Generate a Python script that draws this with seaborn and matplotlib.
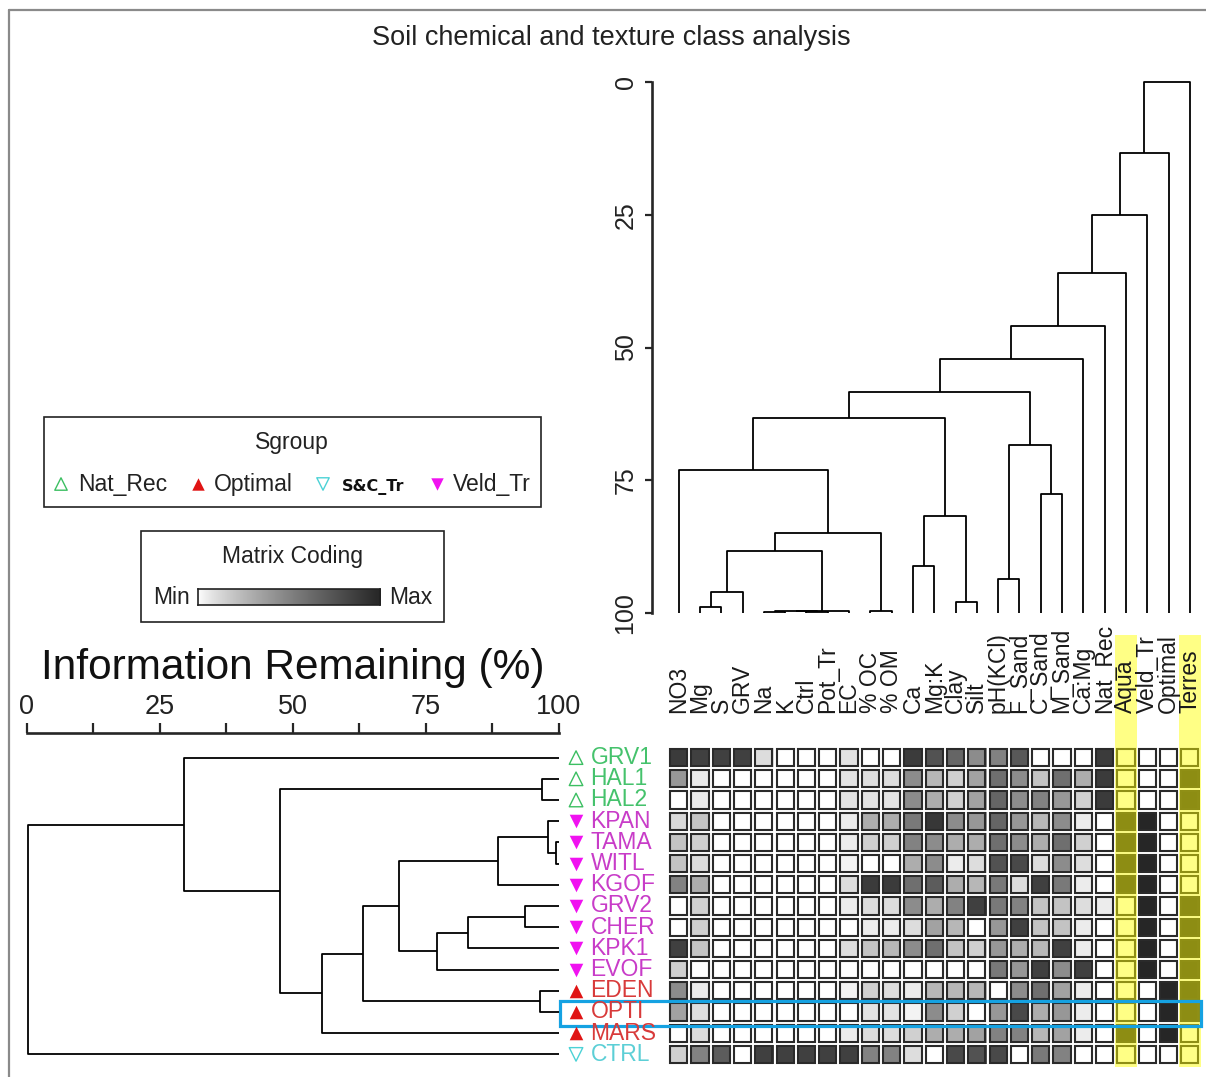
import numpy as np
import pandas as pd
import matplotlib
matplotlib.use("Agg")
import matplotlib.pyplot as plt
import seaborn as sns
from matplotlib.patches import Rectangle
from matplotlib.colors import LinearSegmentedColormap

# ---------------- data ----------------
sites = ["GRV1", "HAL1", "HAL2", "KPAN", "TAMA", "WITL", "KGOF", "GRV2",
         "CHER", "KPK1", "EVOF", "EDEN", "OPTI", "MARS", "CTRL"]
site_group = ["Nat_Rec", "Nat_Rec", "Nat_Rec", "Veld_Tr", "Veld_Tr", "Veld_Tr",
              "Veld_Tr", "Veld_Tr", "Veld_Tr", "Veld_Tr", "Veld_Tr", "Optimal",
              "Optimal", "Optimal", "S&C_Tr"]
variables = ["NO3", "Mg", "S", "GRV", "Na", "K", "Ctrl", "Pot_Tr", "EC", "% OC",
             "% OM", "Ca", "Mg:K", "Clay", "Silt", "pH(KCl)", "F_Sand", "C_Sand",
             "M_Sand", "Ca:Mg", "Nat_Rec", "Aqua", "Veld_Tr", "Optimal", "Terres"]
highlight_vars = ["Aqua", "Terres"]
highlight_site = "OPTI"

# relative values (0 = Min, 1 = Max), one list per site, in variable order
GRV1 = [0.88, 0.85, 0.85, 0.85, 0.10, 0, 0, 0, 0.08, 0, 0, 0.88, 0.75,
        0.65, 0.45, 0.50, 0.72, 0, 0, 0, 0.88, 0, 0, 0, 0]
HAL1 = [0.40, 0.05, 0, 0, 0, 0, 0, 0, 0.08, 0.10, 0.10, 0.45, 0.25,
        0.15, 0.35, 0.60, 0.45, 0.20, 0.60, 0.30, 0.88, 0, 0, 0, 1]
HAL2 = [0, 0.05, 0, 0, 0, 0, 0, 0, 0.08, 0.08, 0.08, 0.45, 0.30,
        0.15, 0.35, 0.65, 0.45, 0.50, 0.40, 0.15, 0.88, 0, 0, 0, 1]
KPAN = [0.12, 0.20, 0, 0, 0, 0, 0, 0, 0.05, 0.30, 0.30, 0.55, 0.90,
        0.45, 0.40, 0.65, 0.40, 0.25, 0.45, 0.05, 0, 1, 1, 0, 0]
TAMA = [0.20, 0.15, 0, 0, 0, 0, 0, 0, 0.05, 0.15, 0.15, 0.50, 0.45,
        0.30, 0.30, 0.60, 0.45, 0.30, 0.60, 0.15, 0, 1, 1, 0, 0]
WITL = [0.20, 0.10, 0, 0, 0, 0, 0, 0, 0.03, 0, 0, 0.30, 0.45,
        0.05, 0.10, 0.75, 0.80, 0.10, 0.45, 0.10, 0, 1, 1, 0, 0]
KGOF = [0.50, 0.30, 0, 0, 0, 0, 0, 0, 0.10, 0.88, 0.88, 0.60, 0.70,
        0.30, 0.25, 0.55, 0.10, 0.85, 0.55, 0.05, 0, 1, 1, 0, 0]
GRV2 = [0, 0.15, 0, 0, 0, 0, 0, 0, 0.05, 0.10, 0.10, 0.45, 0.30,
        0.50, 0.85, 0.55, 0.50, 0.20, 0.20, 0.10, 0.05, 0, 1, 0, 1]
CHER = [0, 0.15, 0, 0, 0, 0, 0, 0, 0, 0.05, 0.05, 0.10, 0.35,
        0.25, 0, 0.40, 0.85, 0.20, 0.20, 0.05, 0, 0, 1, 0, 1]
KPK1 = [0.85, 0.20, 0, 0, 0, 0, 0, 0, 0.10, 0.20, 0.25, 0.45, 0.60,
        0.20, 0.15, 0.40, 0.30, 0.25, 0.85, 0.05, 0, 0, 1, 0, 1]
EVOF = [0.15, 0, 0, 0, 0, 0, 0, 0, 0, 0, 0, 0, 0,
        0, 0, 0.55, 0.40, 0.85, 0.45, 0.85, 0, 0, 1, 0, 1]
EDEN = [0.45, 0.05, 0, 0, 0, 0, 0, 0, 0.03, 0.15, 0.10, 0.05, 0.25,
        0.25, 0.25, 0, 0.45, 0.60, 0.35, 0.05, 0, 0, 0, 1, 1]
OPTI = [0.35, 0.10, 0, 0, 0, 0, 0, 0, 0, 0.08, 0.08, 0.03, 0.45,
        0.15, 0, 0.40, 0.80, 0.30, 0.40, 0.05, 0, 0, 0, 1, 1]
MARS = [0, 0.10, 0, 0, 0, 0, 0, 0, 0.05, 0.10, 0.10, 0.15, 0.30,
        0.30, 0.35, 0.50, 0.50, 0.25, 0.35, 0.05, 0, 1, 0, 1, 0]
CTRL = [0.15, 0.50, 0.70, 0, 0.85, 0.85, 0.85, 0.85, 0.85, 0.50, 0.50, 0.10, 0,
        0.80, 0.75, 0.80, 0, 0.55, 0.50, 0, 0, 0, 0, 0, 0]

# row (site) cluster merges: (a, b, information remaining %)
row_merges = [("TAMA", "WITL", 99.4), ("KPAN", "m0", 98.0), ("HAL1", "HAL2", 96.9),
              ("EDEN", "OPTI", 96.5), ("GRV2", "CHER", 93.6), ("m1", "KGOF", 88.5),
              ("m4", "KPK1", 82.9), ("m6", "EVOF", 77.0), ("m5", "m7", 69.9),
              ("m8", "m3", 63.1), ("m9", "MARS", 55.4), ("m2", "m10", 47.6),
              ("GRV1", "m11", 29.5), ("m12", "CTRL", 0.3)]
# column (variable) cluster merges
col_merges = [("Mg", "S", 98.9), ("m0", "GRV", 96.1), ("Na", "K", 99.9),
              ("Ctrl", "Pot_Tr", 99.8), ("m2", "m3", 99.7), ("m4", "EC", 99.6),
              ("m1", "m5", 88.4), ("% OC", "% OM", 99.6), ("m6", "m7", 85.0),
              ("NO3", "m8", 73.1), ("Ca", "Mg:K", 91.2), ("Clay", "Silt", 98.0),
              ("m10", "m11", 81.8), ("m9", "m12", 63.3), ("pH(KCl)", "F_Sand", 93.6),
              ("C_Sand", "M_Sand", 77.6), ("m14", "m15", 68.4), ("m13", "m16", 58.3),
              ("m17", "Ca:Mg", 52.1), ("m18", "Nat_Rec", 46.0), ("m19", "Aqua", 36.0),
              ("m20", "Veld_Tr", 25.0), ("m21", "Optimal", 13.4), ("m22", "Terres", 0.0)]

info_ticks = [0, 12.5, 25, 37.5, 50, 62.5, 75, 87.5, 100]
info_labels = ["0", "", "25", "", "50", "", "75", "", "100"]
col_ticks = [0, 25, 50, 75, 100]

group_style = {
    "Nat_Rec": dict(marker="^", color="#3cbf62", filled=False, text="#45c26c"),
    "Optimal": dict(marker="^", color="#e01414", filled=True, text="#d83a3a"),
    "S&C_Tr": dict(marker="v", color="#4cd2d6", filled=False, text="#5ccfd6"),
    "Veld_Tr": dict(marker="v", color="#f012f0", filled=True, text="#c83cc8"),
}

# ---------------- setup ----------------
sns.set_style("white")
plt.rcParams["font.family"] = ["Liberation Sans", "DejaVu Sans"]
W, H = 1206, 1077
fig = plt.figure(figsize=(W / 100, H / 100), dpi=100)
fig.patch.set_facecolor("white")

mat = pd.DataFrame([GRV1, HAL1, HAL2, KPAN, TAMA, WITL, KGOF, GRV2, CHER, KPK1,
                    EVOF, EDEN, OPTI, MARS, CTRL], index=sites, columns=variables)
cmap = LinearSegmentedColormap.from_list("mc", ["#ffffff", "#262626"], gamma=0.8)


def dendro_segments(leaves, merges):
    pos = {n: i + 0.5 for i, n in enumerate(leaves)}
    hgt = {n: 100.0 for n in leaves}
    segs = []
    for k, (a, b, h) in enumerate(merges):
        segs.append(([hgt[a], h, h, hgt[b]], [pos[a], pos[a], pos[b], pos[b]]))
        pos[f"m{k}"] = (pos[a] + pos[b]) / 2
        hgt[f"m{k}"] = h
    return segs


# matrix geometry (pixels)
mx0, mx1, my0, my1 = 668, 1200.5, 747, 1065
cw = (mx1 - mx0) / len(variables)

# ---------------- heatmap ----------------
ax_hm = fig.add_axes([mx0 / W, 1 - my1 / H, (mx1 - mx0) / W, (my1 - my0) / H])
sns.heatmap(mat, ax=ax_hm, cmap=cmap, vmin=0, vmax=1, cbar=False,
            linewidths=1.4, linecolor="white", xticklabels=False, yticklabels=False)
ax_hm.set_xlabel("")
ax_hm.set_ylabel("")
inset = 0.095
for r in range(len(sites)):
    for c in range(len(variables)):
        ax_hm.add_patch(Rectangle((c + inset, r + inset), 1 - 2 * inset, 1 - 2 * inset,
                                  fill=False, ec="#2a2a2a", lw=1.5, zorder=2))
for v in highlight_vars:
    j = variables.index(v)
    ax_hm.add_patch(Rectangle((j, -5.3), 1, 20.4, fc="#ffff00", alpha=0.48, lw=0,
                              clip_on=False, zorder=3))
for j, v in enumerate(variables):
    ax_hm.text(j + 0.5, -1.6, v, rotation=90, ha="center", va="bottom",
               fontsize=16.5, color="#1a1a1a", zorder=4, clip_on=False)
ri = sites.index(highlight_site)
ax_hm.add_patch(Rectangle((-5.07, ri - 0.02), 30.07, 1.17, fill=False, ec="#15a2e2",
                          lw=2.3, clip_on=False, zorder=6))

# ---------------- top dendrogram (variables) ----------------
ax_top = fig.add_axes([651.5 / W, 1 - 613 / H, (mx1 - 651.5) / W, 531 / H])
for hs, ps in dendro_segments(variables, col_merges):
    ax_top.plot(ps, hs, color="black", lw=1.3, solid_capstyle="butt", clip_on=False)
ax_top.set_xlim(-(mx0 - 651.5) / cw, len(variables))
ax_top.set_ylim(100, 0)
for s in ["top", "right", "bottom"]:
    ax_top.spines[s].set_visible(False)
ax_top.spines["left"].set_linewidth(1.9)
ax_top.set_xticks([])
ax_top.set_yticks(col_ticks)
ax_top.set_yticklabels([str(t) for t in col_ticks], rotation=90, va="center", fontsize=18,
                       color="#222222")
ax_top.tick_params(axis="y", direction="out", length=5, width=1.6, pad=5, left=True)
ax_top.patch.set_alpha(0)

# ---------------- left dendrogram (sites) ----------------
ax_left = fig.add_axes([26.5 / W, 1 - my1 / H, (559 - 26.5) / W, (my1 - my0) / H])
for hs, ps in dendro_segments(sites, row_merges):
    ax_left.plot(hs, ps, color="black", lw=1.3, solid_capstyle="butt", clip_on=False)
ax_left.set_xlim(0, 100)
ax_left.set_ylim(len(sites), 0)
for s in ["left", "right", "bottom"]:
    ax_left.spines[s].set_visible(False)
ax_left.spines["top"].set_position(("outward", 10.3))
ax_left.spines["top"].set_linewidth(1.9)
ax_left.xaxis.set_ticks_position("top")
ax_left.set_xticks(info_ticks)
ax_left.set_xticklabels(info_labels, fontsize=19.5, color="#222222")
ax_left.tick_params(axis="x", direction="out", length=7.5, width=1.6, pad=2, top=True)
ax_left.set_yticks([])
ax_left.patch.set_alpha(0)

ypos = np.arange(len(sites)) + 0.5
for g, st in group_style.items():
    idx = [i for i, gg in enumerate(site_group) if gg == g]
    if st["filled"]:
        ax_left.scatter([103.2] * len(idx), ypos[idx], marker=st["marker"], s=95,
                        c=st["color"], linewidths=0, clip_on=False, zorder=5)
    else:
        ax_left.scatter([103.2] * len(idx), ypos[idx], marker=st["marker"], s=95,
                        facecolors="none", edgecolors=st["color"], linewidths=1.0,
                        clip_on=False, zorder=5)
for i, (s, g) in enumerate(zip(sites, site_group)):
    ax_left.text(105.9, ypos[i], s, ha="left", va="center", fontsize=16.5,
                 color=group_style[g]["text"], clip_on=False)

# ---------------- overlay: title, legends, frame ----------------
ov = fig.add_axes([0, 0, 1, 1])
ov.set_xlim(0, W)
ov.set_ylim(H, 0)
ov.axis("off")
ov.patch.set_alpha(0)

ov.plot([8.5, W], [10, 10], color="#8a8a8a", lw=1.6)
ov.plot([8.5, 8.5], [10, H], color="#8a8a8a", lw=1.6)

ov.text(611, 38, "Soil chemical and texture class analysis", ha="center", va="center",
        fontsize=19.5, color="#222222")
ov.text(293, 668, "Information Remaining (%)", ha="center", va="center",
        fontsize=30.5, color="#111111")

# Sgroup legend
ov.add_patch(Rectangle((43.5, 417), 497, 90, fill=False, ec="#222222", lw=1.2))
ov.text(292, 443, "Sgroup", ha="center", va="center", fontsize=16.5, color="#222222")
leg_items = [("Nat_Rec", 61, 78.5), ("Optimal", 197.5, 213.5),
             ("S&C_Tr", 323, 341.5), ("Veld_Tr", 437, 452.5)]
for g, mxp, tx in leg_items:
    st = group_style[g]
    if st["filled"]:
        ov.scatter([mxp], [484], marker=st["marker"], s=80, c=st["color"], linewidths=0)
    else:
        ov.scatter([mxp], [484], marker=st["marker"], s=80, facecolors="none",
                   edgecolors=st["color"], linewidths=1.0)
    if g == "S&C_Tr":
        ov.text(tx, 487, g, ha="left", va="center", fontsize=11.5, fontweight="bold",
                family="DejaVu Sans", color="#111111")
    else:
        ov.text(tx, 484, g, ha="left", va="center", fontsize=16.5, color="#222222")

# Matrix coding legend
ov.add_patch(Rectangle((141, 531), 303, 91, fill=False, ec="#222222", lw=1.2))
ov.text(292, 557, "Matrix Coding", ha="center", va="center", fontsize=16.5, color="#222222")
ov.text(190, 597, "Min", ha="right", va="center", fontsize=16.5, color="#222222")
ov.text(389, 597, "Max", ha="left", va="center", fontsize=16.5, color="#222222")
ax_grad = fig.add_axes([197.5 / W, 1 - 605 / H, (380 - 197.5) / W, 16 / H])
ax_grad.imshow(np.linspace(0, 1, 256)[None, :], aspect="auto", cmap=cmap)
ax_grad.set_xticks([])
ax_grad.set_yticks([])
for s in ax_grad.spines.values():
    s.set_linewidth(1.2)
    s.set_color("#222222")

fig.savefig("out.png", dpi=100, facecolor="white")
